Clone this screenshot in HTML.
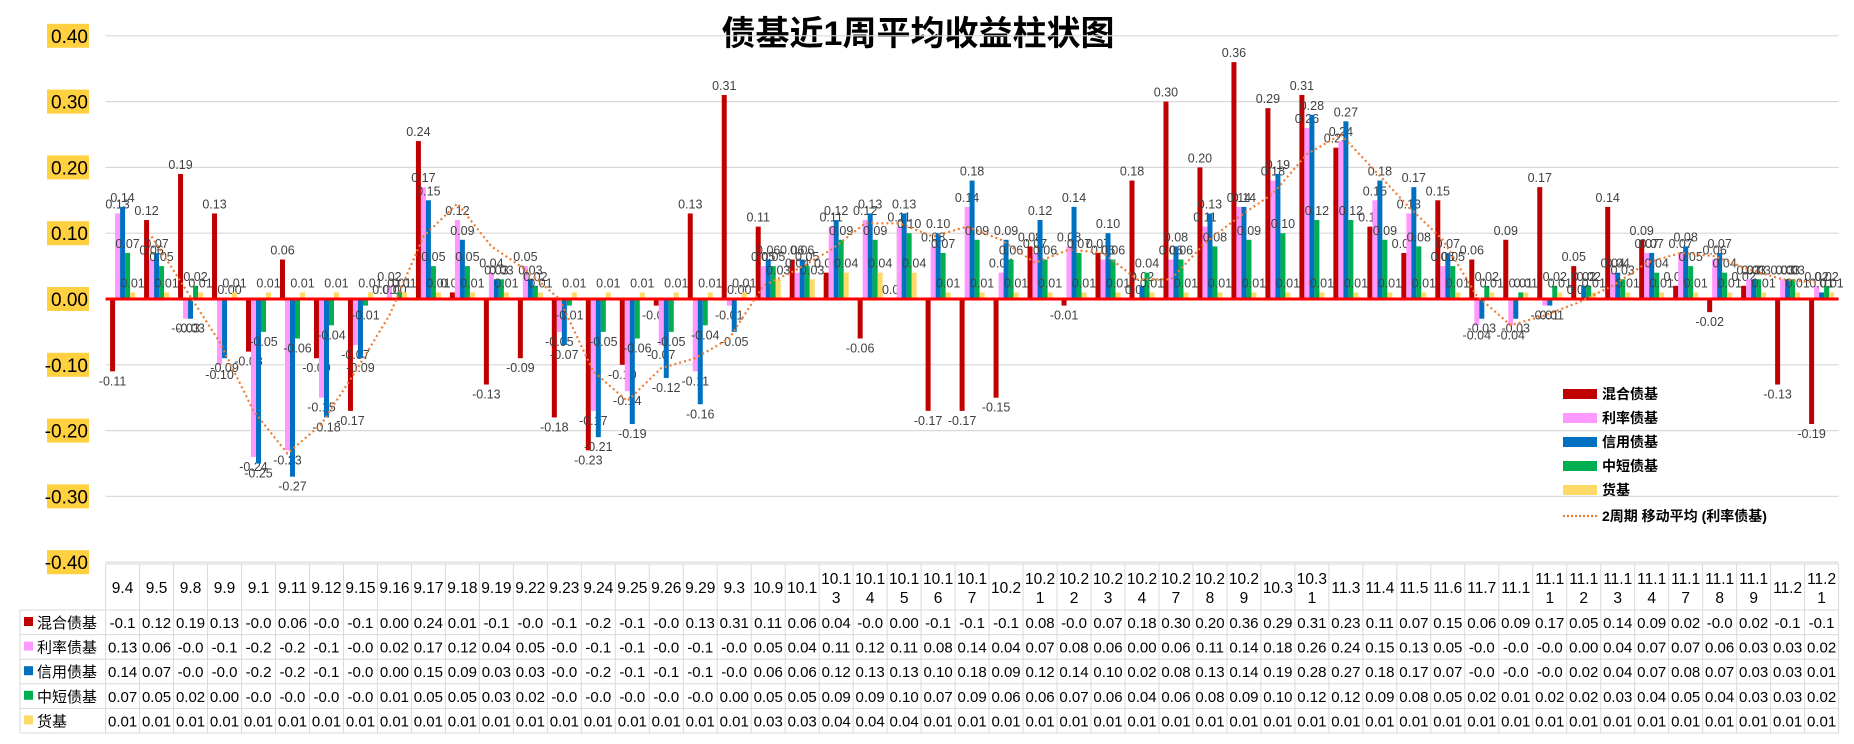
<!DOCTYPE html>
<html><head><meta charset="utf-8"><style>
html,body{margin:0;padding:0;background:#fff;}
svg{display:block;font-family:"Liberation Sans","Noto Sans CJK SC",sans-serif;}
</style></head><body>
<svg id="chart" width="1854" height="744" viewBox="0 0 1854 744" xmlns="http://www.w3.org/2000/svg"></svg>
<script>
const categories=["9.4","9.5","9.8","9.9","9.1","9.11","9.12","9.15","9.16","9.17","9.18","9.19","9.22","9.23","9.24","9.25","9.26","9.29","9.3","10.9","10.1","10.13","10.14","10.15","10.16","10.17","10.2","10.21","10.22","10.23","10.24","10.27","10.28","10.29","10.3","10.31","11.3","11.4","11.5","11.6","11.7","11.1","11.11","11.12","11.13","11.14","11.17","11.18","11.19","11.2","11.21"];
const mixed=[-0.11,0.12,0.19,0.13,-0.08,0.06,-0.09,-0.17,0.00,0.24,0.01,-0.13,-0.09,-0.18,-0.23,-0.10,-0.01,0.13,0.31,0.11,0.06,0.04,-0.06,0.00,-0.17,-0.17,-0.15,0.08,-0.01,0.07,0.18,0.30,0.20,0.36,0.29,0.31,0.23,0.11,0.07,0.15,0.06,0.09,0.17,0.05,0.14,0.09,0.02,-0.02,0.02,-0.13,-0.19];
const rate=[0.13,0.06,-0.03,-0.10,-0.24,-0.23,-0.15,-0.07,0.02,0.17,0.12,0.04,0.05,-0.05,-0.17,-0.14,-0.07,-0.11,-0.01,0.05,0.04,0.11,0.12,0.11,0.08,0.14,0.04,0.07,0.08,0.06,0.00,0.06,0.11,0.14,0.18,0.26,0.24,0.15,0.13,0.05,-0.04,-0.04,-0.01,0.00,0.04,0.07,0.07,0.06,0.03,0.03,0.02];
const credit=[0.14,0.07,-0.03,-0.09,-0.25,-0.27,-0.18,-0.09,0.00,0.15,0.09,0.03,0.03,-0.07,-0.21,-0.19,-0.12,-0.16,-0.05,0.06,0.06,0.12,0.13,0.13,0.10,0.18,0.09,0.12,0.14,0.10,0.02,0.08,0.13,0.14,0.19,0.28,0.27,0.18,0.17,0.07,-0.03,-0.03,-0.01,0.02,0.04,0.07,0.08,0.07,0.03,0.03,0.01];
const shortTerm=[0.07,0.05,0.02,0.00,-0.05,-0.06,-0.04,-0.01,0.01,0.05,0.05,0.03,0.02,-0.01,-0.05,-0.06,-0.05,-0.04,0.00,0.05,0.05,0.09,0.09,0.10,0.07,0.09,0.06,0.06,0.07,0.06,0.04,0.06,0.08,0.09,0.10,0.12,0.12,0.09,0.08,0.05,0.02,0.01,0.02,0.02,0.03,0.04,0.05,0.04,0.03,0.03,0.02];
const money=[0.01,0.01,0.01,0.01,0.01,0.01,0.01,0.01,0.01,0.01,0.01,0.01,0.01,0.01,0.01,0.01,0.01,0.01,0.01,0.03,0.03,0.04,0.04,0.04,0.01,0.01,0.01,0.01,0.01,0.01,0.01,0.01,0.01,0.01,0.01,0.01,0.01,0.01,0.01,0.01,0.01,0.01,0.01,0.01,0.01,0.01,0.01,0.01,0.01,0.01,0.01];
const yTicks=[0.40,0.30,0.20,0.10,0.00,-0.10,-0.20,-0.30,-0.40];
const seriesNames=["混合债基","利率债基","信用债基","中短债基","货基"];

const NS="http://www.w3.org/2000/svg";
const svg=document.getElementById('chart');
const X0=105.6, COLW=33.98, Y0=299, PX=658;
const yS=v=>Y0-v*PX;
const xS=i=>X0+i*COLW;
function mk(tag,attrs,parent,text){const e=document.createElementNS(NS,tag);for(const k in attrs)e.setAttribute(k,attrs[k]);if(text!==undefined)e.textContent=text;(parent||svg).appendChild(e);return e;}
const series=[mixed,rate,credit,shortTerm,money];
const colors=["#C00000","#FF99FF","#0070C0","#00B050","#FFD966"];

// title
const t=mk('text',{x:918,y:45,'text-anchor':'middle','font-size':34,'font-weight':'bold',fill:'#000'},svg,"债基近1周平均收益柱状图");


// grid + y ticks
yTicks.forEach(v=>{
  const y=yS(v);
  const g=mk('line',{x1:X0,x2:X0+51*COLW,y1:y,y2:y,stroke:'#d9d9d9','stroke-width':1.2});
  
  const r=mk('rect',{x:47,y:y-12,width:42,height:24,fill:'#FFD03F'});
  
  const tx=mk('text',{x:88,y:y+7,'text-anchor':'end','font-size':19,fill:'#000'},svg,v.toFixed(2));
  
});

// bars + labels
const BW=5;
categories.forEach((c,i)=>{
  series.forEach((s,k)=>{
    const v=s[i];const x=xS(i)+4.5+k*BW;
    const y1=yS(Math.max(v,0)), y2=yS(Math.min(v,0));
    const b=mk('rect',{x:x,y:y1,width:BW,height:Math.max(y2-y1,0.5),fill:colors[k]});
    
    
    const ly=v>=0?y1-5:y2+14;
    const l=mk('text',{x:x+BW/2,y:ly,'text-anchor':'middle','font-size':12.5,fill:'#404040'},svg,v.toFixed(2));
    
    
  });
});

// zero line
const z=mk('line',{x1:X0,x2:X0+51*COLW,y1:Y0,y2:Y0,stroke:'#FF0000','stroke-width':3});


// moving average of rate
let pts=[];
for(let i=1;i<rate.length;i++){pts.push((xS(i)+4.5+1.5*BW).toFixed(1)+','+yS((rate[i]+rate[i-1])/2).toFixed(1));}
const ma=mk('polyline',{points:pts.join(' '),fill:'none',stroke:'#ED7D31','stroke-width':2.2,'stroke-dasharray':'2 3'});


// legend
const legY=[395,419,443,467,491];
seriesNames.forEach((n,k)=>{
  const sw=mk('rect',{x:1563,y:legY[k]-6,width:34,height:10,fill:colors[k]});
  
  const lt=mk('text',{x:1602,y:legY[k]+4,'font-size':14,'font-weight':'bold',fill:'#000'},svg,n);
  
});
const ml=mk('line',{x1:1563,x2:1597,y1:516,y2:516,stroke:'#ED7D31','stroke-width':2.2,'stroke-dasharray':'2 2'});

const mt=mk('text',{x:1602,y:521,'font-size':14,'font-weight':'bold',fill:'#000'},svg,"2周期 移动平均 (利率债基)");


// data table
const TT=564, HH=46, RH=24.6, TL=20;
const TR=X0+51*COLW, TB=TT+HH+5*RH;
const grid=c=>{const e=mk('line',c);e.setAttribute('stroke','#d9d9d9');e.setAttribute('stroke-width','1');return e;};
grid({x1:X0,x2:TR,y1:TT,y2:TT});
for(let r=0;r<=5;r++){grid({x1:TL,x2:TR,y1:TT+HH+r*RH,y2:TT+HH+r*RH});}
for(let i=0;i<=51;i++){grid({x1:xS(i),x2:xS(i),y1:TT,y2:TB});}
grid({x1:TL,x2:TL,y1:TT+HH,y2:TB});
function fmt(v){if(v<0){const d=Math.floor(Math.abs(v)*10+1e-9);return "-0."+d;}return v.toFixed(2);}
categories.forEach((c,i)=>{
  const cx=xS(i)+COLW/2;
  if(c.length>4){
    const h1=mk('text',{x:cx,y:TT+20,'text-anchor':'middle','font-size':15.5,fill:'#000'},svg,c.slice(0,4));
    
    const h2=mk('text',{x:cx,y:TT+39,'text-anchor':'middle','font-size':15.5,fill:'#000'},svg,c.slice(4));
    
  } else {
    const h=mk('text',{x:cx,y:TT+29,'text-anchor':'middle','font-size':15.5,fill:'#000'},svg,c);
    
  }
  series.forEach((s,k)=>{
    const d=mk('text',{x:cx,y:TT+HH+k*RH+18,'text-anchor':'middle','font-size':15,fill:'#000'},svg,fmt(s[i]));
    
  });
});
seriesNames.forEach((n,k)=>{
  const sq=mk('rect',{x:24,y:TT+HH+k*RH+7,width:9,height:9,fill:colors[k]});
  
  const tl=mk('text',{x:37,y:TT+HH+k*RH+18,'font-size':15,fill:'#000'},svg,n);
  
});
</script>
</body></html>
